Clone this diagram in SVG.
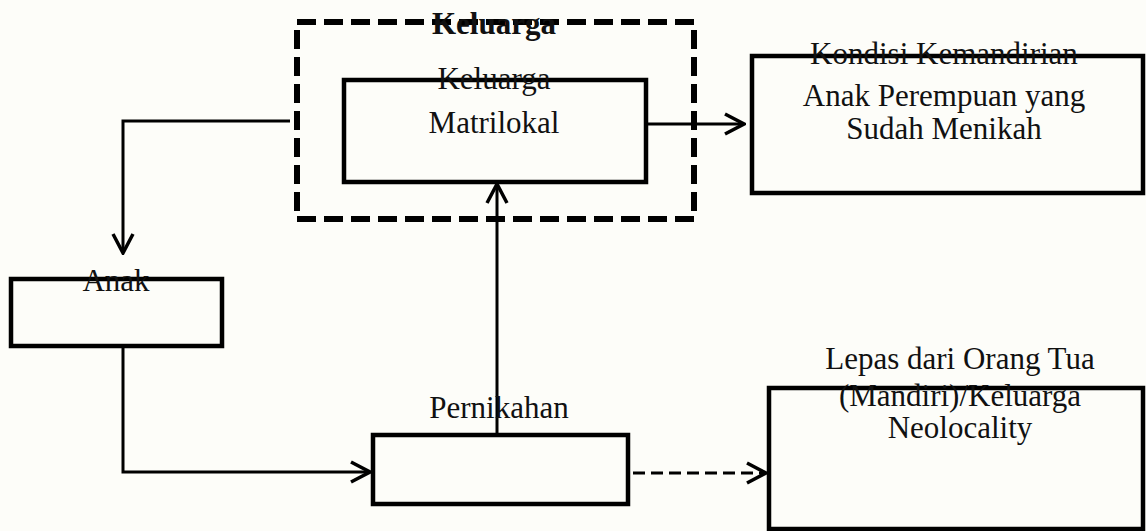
<svg xmlns="http://www.w3.org/2000/svg" width="1146" height="531" viewBox="0 0 1146 531">
<style>
.box{fill:none;stroke:#000;stroke-width:4.5}
.ln{fill:none;stroke:#000;stroke-width:3}
.t{font-family:"Liberation Serif","Times New Roman",serif;font-size:31px;fill:#111;text-anchor:middle}
.b{font-weight:bold;font-size:31px}
</style>
<defs>
<marker id="ah" viewBox="0 0 24 24" refX="22" refY="12" markerWidth="24" markerHeight="24" markerUnits="userSpaceOnUse" orient="auto">
<path d="M3,2 L22,12 L3,22" fill="none" stroke="#000" stroke-width="3.5"/>
</marker>
</defs>
<rect width="1146" height="531" fill="#fdfdf9"/>
<g id="connectors">
<path class="ln" d="M290,121 H123 V253" marker-end="url(#ah)"/>
<path class="ln" d="M123,346 V472 H370" marker-end="url(#ah)"/>
<path class="ln" d="M497,434 V184" marker-end="url(#ah)"/>
<path class="ln" d="M646,124 H744" marker-end="url(#ah)"/>
<path class="ln" d="M633,473 H766" stroke-dasharray="12,6" stroke-width="5" marker-end="url(#ah)"/>
</g>
<g id="keluarga">
<rect x="297" y="22" width="397" height="197" fill="none" stroke="#000" stroke-width="6" stroke-dasharray="19,8"/>
<text class="t b" x="494" y="34">Keluarga</text>
</g>
<g id="matrilokal">
<rect class="box" x="344" y="80" width="302" height="102"/>
<text class="t" x="494" y="89">Keluarga</text>
<text class="t" x="494" y="133">Matrilokal</text>
</g>
<g id="kondisi">
<rect class="box" x="752" y="56" width="391" height="137"/>
<text class="t" x="944" y="64">Kondisi Kemandirian</text>
<text class="t" x="944" y="106">Anak Perempuan yang</text>
<text class="t" x="944" y="139">Sudah Menikah</text>
</g>
<g id="anak">
<rect class="box" x="11" y="279" width="211" height="67"/>
<text class="t" x="116" y="291">Anak</text>
</g>
<g id="pernikahan">
<rect class="box" x="373" y="435" width="255" height="69"/>
<text class="t" x="499" y="418">Pernikahan</text>
</g>
<g id="lepas">
<rect class="box" x="769" y="388" width="374" height="141"/>
<text class="t" x="960" y="369">Lepas dari Orang Tua</text>
<text class="t" x="960" y="406">(Mandiri)/Keluarga</text>
<text class="t" x="960" y="438">Neolocality</text>
</g>
</svg>
